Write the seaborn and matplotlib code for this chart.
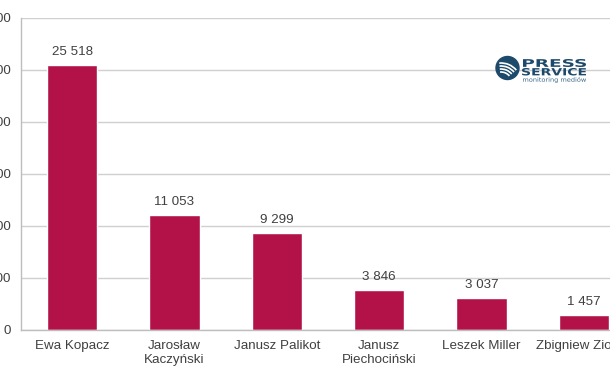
import matplotlib
matplotlib.use("Agg")
import matplotlib.pyplot as plt
import seaborn as sns
import pandas as pd
import numpy as np
from matplotlib.patches import Circle, PathPatch, Arc
from matplotlib.textpath import TextPath
from matplotlib.font_manager import FontProperties
from matplotlib.transforms import Affine2D

names = ["Ewa Kopacz", "Jarosław\nKaczyński", "Janusz Palikot",
         "Janusz\nPiechociński", "Leszek Miller", "Zbigniew Ziobro"]
counts = [25518, 11053, 9299, 3846, 3037, 1457]
yticks = [0, 5000, 10000, 15000, 20000, 25000, 30000]

df = pd.DataFrame({"name": names, "count": counts})

sns.set_style("white")
plt.rcParams["font.family"] = ["Liberation Sans", "DejaVu Sans"]

grey = "#bdbdbd"
txt = "#404040"
bar_col = "#B31249"
fs = 9.6

fig = plt.figure(figsize=(6.1, 3.8), dpi=100)
# axes run past the right edge, like the cropped original
ax = fig.add_axes([21 / 610, 50 / 380, 614 / 610, 312 / 380])

sns.barplot(data=df, x="name", y="count", color=bar_col, width=0.49,
            saturation=1, ax=ax)

ax.set_xlim(-0.5, 5.5)
ax.set_ylim(0, 30000)
ax.set_yticks(yticks)
ax.set_yticklabels([f"{v:,}".replace(",", " ") for v in yticks])
ax.yaxis.grid(True, color="#d0d0d0", lw=1)
ax.set_axisbelow(True)

for s in ["top", "right"]:
    ax.spines[s].set_visible(False)
for s in ["left", "bottom"]:
    ax.spines[s].set_color(grey)
    ax.spines[s].set_linewidth(1)

ax.tick_params(axis="y", length=3.6, color=grey, labelsize=fs,
               labelcolor=txt, pad=4)
ax.tick_params(axis="x", which="major", length=0, labelsize=fs,
               labelcolor=txt, pad=7)
ax.set_xticks(np.arange(-0.5, 6, 1), minor=True)
ax.tick_params(axis="x", which="minor", length=3.6, color=grey)
ax.set_xlabel("")
ax.set_ylabel("")

for i, v in enumerate(counts):
    ax.annotate(f"{v:,}".replace(",", " "), (i, v), xytext=(0, 5),
                textcoords="offset points", ha="center", va="bottom",
                fontsize=fs, color=txt)

# logo, drawn in pixel coordinates (origin top-left)
navy = "#1d4a6b"
H = 380


def px(x, y):
    return x / 100, (H - y) / 100


fig.patches.append(Circle(px(507.5, 68), 0.115,
                          transform=fig.dpi_scale_trans, color=navy))
for k, r in enumerate([0.06, 0.09, 0.12, 0.15]):
    cx, cy = px(500 - 3, 76 + 3)
    fig.patches.append(Arc((cx + 0.04, cy - 0.04), 2 * r + 0.1, 2 * r + 0.1,
                           theta1=40, theta2=95,
                           transform=fig.dpi_scale_trans,
                           color="white", lw=1.2))


def word(s, x0, x1, ytop, ybot, weight="bold", color=navy):
    tp = TextPath((0, 0), s, size=10,
                  prop=FontProperties(family="DejaVu Sans", weight=weight))
    bb = tp.get_extents()
    sx = (x1 - x0) / bb.width
    sy = (ybot - ytop) / bb.height
    tr = (Affine2D().translate(-bb.x0, -bb.y0).scale(sx, sy)
          .translate(x0, H - ybot))
    fig.patches.append(PathPatch(tr.transform_path(tp), color=color,
                                 lw=0, transform=None))


word("PRESS", 523, 586, 59, 67)
word("SERVICE", 522, 586, 68, 75.5)
word("monitoring mediów", 523, 586, 77, 83, weight="normal",
     color="#3a6a8a")

fig.savefig("out.png", dpi=100)
